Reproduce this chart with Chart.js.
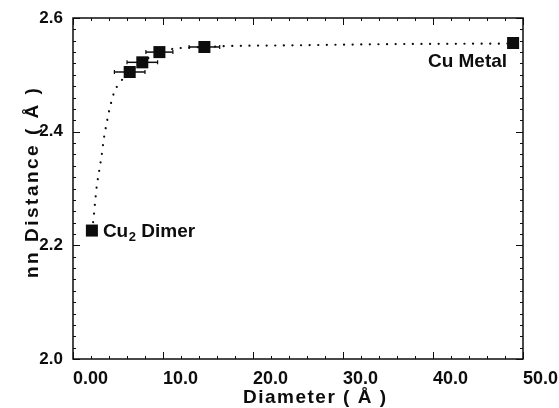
<!DOCTYPE html>
<html>
<head>
<meta charset="utf-8">
<script src="https://cdn.jsdelivr.net/npm/chart.js@4.4.0/dist/chart.umd.min.js"></script>
<style>
  html, body { margin: 0; padding: 0; background: #fff; }
  #wrap { width: 559px; height: 408px; }
</style>
</head>
<body>
<div id="wrap"><canvas id="myChart" width="559" height="408"></canvas></div>
<script>
// measured points: cluster diameter (Å) vs nearest-neighbour distance (Å)
const diameters = [2.1, 6.3, 7.7, 9.6, 14.6, 48.9];
const distances = [2.226, 2.505, 2.522, 2.540, 2.549, 2.556];
const diameterErr = [0, 1.7, 1.7, 1.5, 1.7, 0];

// dotted guide curve
const fitX = [2.1, 2.26, 2.44, 2.63, 2.92, 3.19, 3.44, 3.74, 4.11, 4.59, 5.14, 6.33, 7.7, 9.56, 14.56, 25, 35, 48.9];
const fitY = [2.226, 2.244, 2.274, 2.303, 2.332, 2.359, 2.389, 2.415, 2.443, 2.470, 2.485, 2.505, 2.522, 2.540, 2.549, 2.552, 2.554, 2.555];

const xTicks = [0, 10, 20, 30, 40, 50];
const xTickLabels = ["0.00", "10.0", "20.0", "30.0", "40.0", "50.0"];
const yTicks = [2.0, 2.2, 2.4, 2.6];
const yTickLabels = ["2.0", "2.2", "2.4", "2.6"];

const xTitle = "Diameter ( Å )";
const yTitle = "nn Distance ( Å )";

const INK = "#0d0d0d";
const FONT = "'Liberation Sans', Arial, sans-serif";
const ctx = document.getElementById("myChart");

const datasets = [];

datasets.push({
  label: "points",
  data: diameters.map((d, i) => ({ x: d, y: distances[i] })),
  pointStyle: "rect",
  pointRadius: 8.5,
  pointHoverRadius: 8.5,
  backgroundColor: INK,
  borderColor: INK,
  borderWidth: 0,
  showLine: false,
  clip: false,
  order: 0,
});

diameters.forEach((d, i) => {
  if (!diameterErr[i]) return;
  datasets.push({
    type: "line",
    label: "err" + i,
    data: [
      { x: d - diameterErr[i], y: distances[i] },
      { x: d + diameterErr[i], y: distances[i] },
    ],
    borderColor: INK,
    borderWidth: 1.5,
    pointStyle: "line",
    pointRotation: 90,
    pointRadius: 2,
    pointBorderWidth: 1.2,
    pointBorderColor: INK,
    order: 1,
  });
});

datasets.push({
  type: "line",
  label: "fit",
  data: fitX.map((x, i) => ({ x: x, y: fitY[i] })),
  borderColor: INK,
  borderWidth: 2.2,
  borderDash: [0.1, 8.5],
  borderCapStyle: "round",
  cubicInterpolationMode: "monotone",
  pointRadius: 0,
  order: 2,
});

// box frame with inward ticks on all four sides
const framePlugin = {
  id: "frame",
  beforeDatasetsDraw(chart) {
    const c = chart.ctx;
    const a = chart.chartArea;
    const xs = chart.scales.x;
    const ys = chart.scales.y;
    c.save();
    c.strokeStyle = INK;
    c.lineWidth = 1.5;
    c.strokeRect(a.left, a.top, a.right - a.left, a.bottom - a.top);
    c.lineWidth = 1;
    c.beginPath();
    for (let v = 0; v <= 50; v += 2) {
      const px = Math.round(xs.getPixelForValue(v)) + 0.5;
      const len = v % 10 === 0 ? 7 : 3;
      c.moveTo(px, a.bottom); c.lineTo(px, a.bottom - len);
      c.moveTo(px, a.top); c.lineTo(px, a.top + len);
    }
    for (let k = 0; k <= 30; k++) {
      const v = 2.0 + k * 0.02;
      const py = Math.round(ys.getPixelForValue(v)) + 0.5;
      const len = k % 10 === 0 ? 7 : 3;
      c.moveTo(a.left, py); c.lineTo(a.left + len, py);
      c.moveTo(a.right, py); c.lineTo(a.right - len, py);
    }
    c.stroke();
    c.restore();
  },
  afterDraw(chart) {
    const c = chart.ctx;
    const a = chart.chartArea;
    const pts = chart.getDatasetMeta(0).data;
    c.save();
    c.fillStyle = INK;
    c.textBaseline = "alphabetic";

    // Cu2 Dimer label beside the first point
    const d = pts[0];
    let x0 = d.x + 11;
    const by = d.y + 6;
    c.textAlign = "left";
    c.font = "bold 19px " + FONT;
    c.fillText("Cu", x0, by);
    x0 += c.measureText("Cu").width;
    c.font = "bold 13px " + FONT;
    c.fillText("2", x0 + 0.5, by + 4);
    x0 += c.measureText("2").width + 0.5;
    c.font = "bold 19px " + FONT;
    c.fillText(" Dimer", x0, by);

    // Cu Metal label under the last point
    const m = pts[pts.length - 1];
    c.textAlign = "right";
    c.fillText("Cu Metal", m.x - 6, m.y + 24);

    // axis titles
    if ("letterSpacing" in c) c.letterSpacing = "1.5px";
    c.textAlign = "left";
    c.font = "bold 19px " + FONT;
    c.fillText(xTitle, 243, 403);

    if ("letterSpacing" in c) c.letterSpacing = "2.5px";
    c.translate(38, 278);
    c.rotate(-Math.PI / 2);
    c.fillText(yTitle, 0, 0);
    c.restore();
  },
};

new Chart(ctx, {
  type: "scatter",
  data: { datasets },
  options: {
    responsive: false,
    animation: false,
    devicePixelRatio: 1,
    events: [],
    layout: { padding: { top: 18, right: 36, left: 0, bottom: 0 } },
    plugins: {
      legend: { display: false },
      tooltip: { enabled: false },
    },
    scales: {
      x: {
        type: "linear",
        min: 0,
        max: 50,
        grid: { display: false, drawTicks: false },
        border: { display: false },
        afterBuildTicks: (axis) => {
          axis.ticks = xTicks.map((v) => ({ value: v }));
        },
        afterFit: (s) => {
          s.height = 49;
          s.paddingLeft = 0;
          s.paddingRight = 0;
        },
        ticks: {
          align: "start",
          padding: 9,
          color: INK,
          font: { family: FONT, size: 18, weight: "bold" },
          callback: (v, i) => xTickLabels[i],
        },
      },
      y: {
        type: "linear",
        min: 2.0,
        max: 2.6,
        grid: { display: false, drawTicks: false },
        border: { display: false },
        afterBuildTicks: (axis) => {
          axis.ticks = yTicks.map((v) => ({ value: v }));
        },
        afterFit: (s) => {
          s.width = 73;
          s.paddingTop = 0;
          s.paddingBottom = 0;
        },
        ticks: {
          padding: 10,
          color: INK,
          font: { family: FONT, size: 17, weight: "bold" },
          callback: (v, i) => yTickLabels[i],
        },
      },
    },
  },
  plugins: [framePlugin],
});
</script>
</body>
</html>
